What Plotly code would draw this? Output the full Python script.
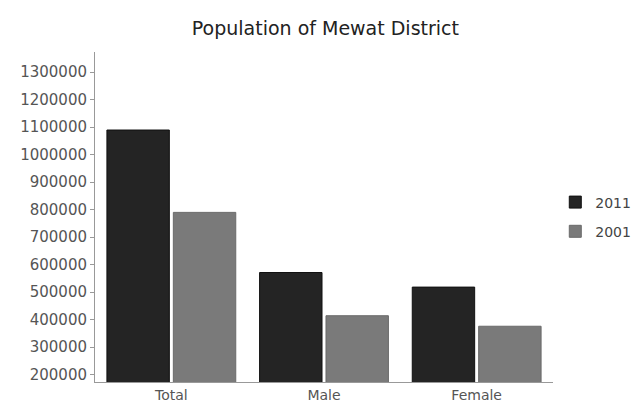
import plotly.graph_objects as go

# Census population of Mewat district, Haryana
categories = ["Total", "Male", "Female"]
pop_2011 = [1089263, 571162, 518101]
pop_2001 = [789750, 414000, 375750]
y_ticks = [200000, 300000, 400000, 500000, 600000, 700000, 800000,
           900000, 1000000, 1100000, 1200000, 1300000]

FONT = "DejaVu Sans, Liberation Sans, Arial"

fig = go.Figure()
fig.add_trace(go.Bar(name="2011", x=categories, y=pop_2011,
                     marker=dict(color="#242424", line=dict(color="#111111", width=1)),
                     legendgroup="a"))
fig.add_trace(go.Bar(name="2001", x=categories, y=pop_2001,
                     marker=dict(color="#7a7a7a", line=dict(color="#6a6a6a", width=1)),
                     legendgroup="b"))

fig.update_layout(
    width=638, height=406,
    margin=dict(l=95, r=85, t=52, b=24, autoexpand=False),
    paper_bgcolor="white", plot_bgcolor="white",
    title=dict(text="Population of Mewat District", x=0.51, xanchor="center",
               y=0.93, yanchor="middle",
               font=dict(family=FONT, size=19, color="#222222")),
    barmode="group", bargap=0.13, bargroupgap=0.06,
    font=dict(family=FONT, size=13, color="#555555"),
    xaxis=dict(showline=True, linecolor="#999999", linewidth=1, ticks="",
               tickfont=dict(size=14, color="#555555"), showgrid=False),
    yaxis=dict(range=[173000, 1373000], tickvals=y_ticks,
               ticktext=[str(v) for v in y_ticks],
               showline=True, linecolor="#999999", linewidth=1,
               ticks="outside", ticklen=4, tickcolor="#999999",
               showgrid=False, zeroline=False,
               tickfont=dict(size=15, color="#555555")),
    legend=dict(x=1.005, y=0.5, xanchor="left", yanchor="middle",
                tracegroupgap=8, font=dict(size=14, color="#444444")),
)

fig.write_html("out.html")
